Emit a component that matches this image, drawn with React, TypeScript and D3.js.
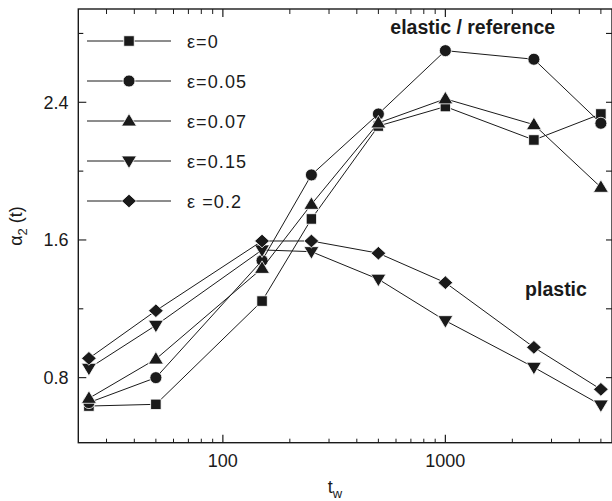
import React from "react";
import * as d3 from "d3";

const tw = [25, 50, 150, 250, 500, 1000, 2500, 5000];
const seriesNames = ["ε=0", "ε=0.05", "ε=0.07", "ε=0.15", "ε =0.2"];
const eps0 = [0.635, 0.645, 1.245, 1.722, 2.262, 2.375, 2.181, 2.332];
const eps005 = [0.655, 0.8, 1.48, 1.978, 2.332, 2.7, 2.65, 2.278];
const eps007 = [0.68, 0.908, 1.435, 1.807, 2.28, 2.42, 2.27, 1.906];
const eps015 = [0.854, 1.104, 1.542, 1.532, 1.372, 1.131, 0.86, 0.641];
const eps02 = [0.912, 1.189, 1.594, 1.594, 1.523, 1.352, 0.976, 0.732];
const markers = ["square", "circle", "triangle", "triangleDown", "diamond"];
const yTicks = [0.8, 1.2, 1.6, 2.0, 2.4, 2.8];
const yLabeled = [0.8, 1.6, 2.4];
const xMajor = [100, 1000];

const W = 612;
const H = 501;
const left = 78.3;
const right = 612;
const top = 9;
const bottom = 442.7;

const x = d3.scaleLog().domain([22.4, 5610]).range([left, right]);
const y = d3.scaleLinear().domain([0.422, 2.942]).range([bottom, top]);

const FONT = "'Liberation Sans', Arial, Helvetica, sans-serif";
const INK = "#1a1a1a";

function Marker({ type, cx, cy }: { type: string; cx: number; cy: number }) {
  const common = { fill: INK, stroke: "#fff", strokeWidth: 0.8 };
  if (type === "square") return <rect x={cx - 5.2} y={cy - 5.2} width={10.4} height={10.4} {...common} />;
  if (type === "circle") return <circle cx={cx} cy={cy} r={6} {...common} />;
  if (type === "triangle")
    return <path d={`M${cx},${cy - 7.5}L${cx + 7.5},${cy + 5}L${cx - 7.5},${cy + 5}Z`} {...common} />;
  if (type === "triangleDown")
    return <path d={`M${cx},${cy + 7.5}L${cx + 7.5},${cy - 5}L${cx - 7.5},${cy - 5}Z`} {...common} />;
  return <path d={`M${cx},${cy - 6.8}L${cx + 7.4},${cy}L${cx},${cy + 6.8}L${cx - 7.4},${cy}Z`} {...common} />;
}

export default function App() {
  const series = [eps0, eps005, eps007, eps015, eps02];
  const line = d3
    .line<number>()
    .x((_, i) => x(tw[i]))
    .y((d) => y(d));

  const minorX: number[] = [];
  for (let dec = 10; dec <= 1000; dec *= 10) {
    for (let k = 2; k <= 9; k++) {
      const v = k * dec;
      if (v >= 22.4 && v <= 5610) minorX.push(v);
    }
  }

  const legendY = [41, 81, 121, 161, 201];

  return (
    <svg width={W} height={H} style={{ position: "absolute", left: 0, top: 0, background: "#fff" }} fontFamily={FONT}>
      <rect x={0} y={0} width={W} height={H} fill="#fff" />
      {/* frame */}
      <rect x={left} y={top} width={right - left} height={bottom - top} fill="none" stroke={INK} strokeWidth={1.4} />
      {/* x ticks */}
      {minorX.map((v) => (
        <g key={"mx" + v}>
          <line x1={x(v)} x2={x(v)} y1={bottom} y2={bottom - 4} stroke={INK} strokeWidth={1} />
          <line x1={x(v)} x2={x(v)} y1={top} y2={top + 5} stroke={INK} strokeWidth={1} />
        </g>
      ))}
      {xMajor.map((v) => (
        <g key={"Mx" + v}>
          <line x1={x(v)} x2={x(v)} y1={bottom} y2={bottom - 8} stroke={INK} strokeWidth={1.2} />
          <line x1={x(v)} x2={x(v)} y1={top} y2={top + 8} stroke={INK} strokeWidth={1.2} />
          <text x={x(v)} y={467} textAnchor="middle" fontSize={18} fill={INK}>
            {v}
          </text>
        </g>
      ))}
      {/* y ticks */}
      {yTicks.map((v) => {
        const major = yLabeled.includes(v);
        return (
          <g key={"y" + v}>
            <line x1={left} x2={left + (major ? 8 : 5)} y1={y(v)} y2={y(v)} stroke={INK} strokeWidth={1.1} />
            <line x1={right} x2={right - 6} y1={y(v)} y2={y(v)} stroke={INK} strokeWidth={1.1} />
            {major && (
              <text x={68.5} y={y(v) + 6.5} textAnchor="end" fontSize={18} fill={INK}>
                {v.toFixed(1)}
              </text>
            )}
          </g>
        );
      })}
      {/* axis labels */}
      <text x={335} y={493} fontSize={18} fill={INK} textAnchor="middle">
        t<tspan fontSize={13} dy={5}>w</tspan>
      </text>
      <text transform="translate(22,226) rotate(-90)" fontSize={18} fill={INK} textAnchor="middle">
        α<tspan fontSize={13} dy={5}>2</tspan>
        <tspan dy={-5}> (t)</tspan>
      </text>
      {/* annotations */}
      <text x={472.7} y={34} fontSize={19.5} fontWeight="bold" textAnchor="middle" fill={INK}>
        elastic / reference
      </text>
      <text x={556} y={296} fontSize={19.5} fontWeight="bold" textAnchor="middle" fill={INK}>
        plastic
      </text>
      {/* series */}
      {series.map((s, si) => (
        <g key={"s" + si}>
          <path d={line(s) || ""} fill="none" stroke={INK} strokeWidth={1} />
          {s.map((v, i) => (
            <Marker key={i} type={markers[si]} cx={x(tw[i])} cy={y(v)} />
          ))}
        </g>
      ))}
      {/* legend */}
      {seriesNames.map((name, i) => (
        <g key={"l" + i}>
          <line x1={87} x2={171} y1={legendY[i]} y2={legendY[i]} stroke={INK} strokeWidth={1} />
          <Marker type={markers[i]} cx={129} cy={legendY[i]} />
          <text x={187} y={legendY[i] + 6.5} fontSize={18} letterSpacing={1.1} fill={INK}>
            {name}
          </text>
        </g>
      ))}
    </svg>
  );
}
